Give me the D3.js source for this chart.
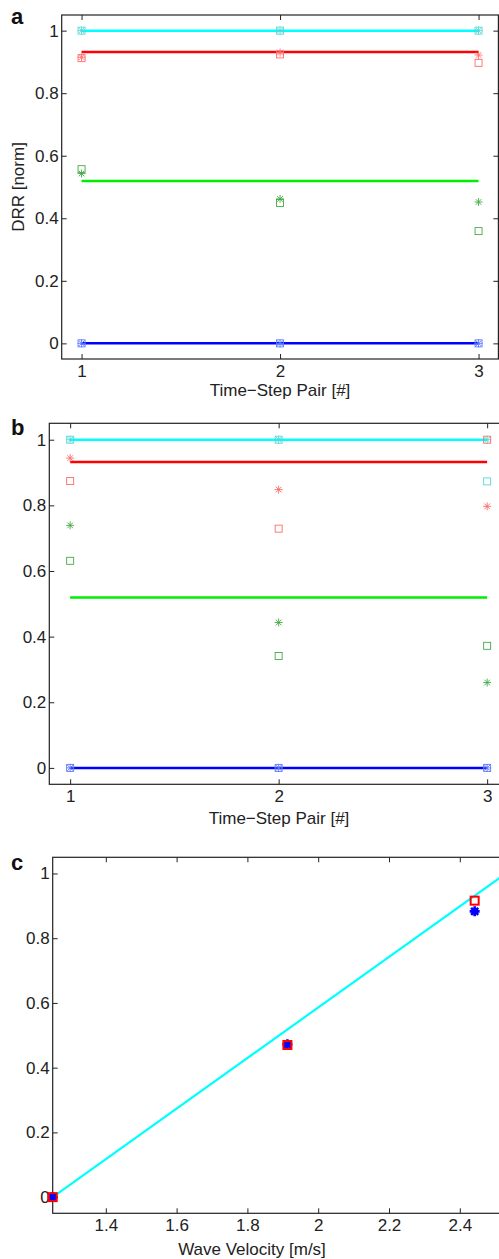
<!DOCTYPE html>
<html>
<head>
<meta charset="utf-8">
<script src="https://d3js.org/d3.v7.min.js"></script>
<style>
  body { margin: 0; background: #fff; }
  svg { display: block; font-family: "Liberation Sans", Arial, sans-serif; }
  .tick text { fill: #222; font-size: 17px; }
</style>
</head>
<body>
<div id="chart"></div>
<script>
// time-step pairs for panels a and b
var pairs = [1, 2, 3]
var pairTicks = [1, 2, 3]
var drrTicks = [0, 0.2, 0.4, 0.6, 0.8, 1]

// horizontal reference levels (cyan, red, green, blue)
var refLevels = [1, 0.932, 0.519, 0]

// panel a
var aCyanSq = [1, 1, 1]
var aCyanAst = [1, 1, 1]
var aRedSq = [0.912, 0.924, 0.897]
var aRedAst = [0.915, 0.930, 0.922]
var aGreenSq = [0.557, 0.449, 0.359]
var aGreenAst = [0.543, 0.462, 0.452]
var aBlueSq = [0, 0, 0]
var aBlueAst = [0, 0, 0]

// panel b
var bCyanSq = [1, 1, 0.873]
var bCyanAst = [1, 1, 1]
var bRedSq = [0.874, 0.729, 1.0]
var bRedAst = [0.944, 0.848, 0.797]
var bGreenSq = [0.631, 0.341, 0.372]
var bGreenAst = [0.739, 0.443, 0.260]
var bBlueSq = [0, 0, 0]
var bBlueAst = [0, 0, 0]

// panel c
var velocity = [1.25, 1.913, 2.442]
var cRedSq = [0, 0.470, 0.916]
var cBlueAst = [0, 0.472, 0.883]
var fitVelocity = [1.25, 2.53]
var fitDrr = [0, 1.0]
var velTicks = [1.4, 1.6, 1.8, 2, 2.2, 2.4]

var lineColors = ["#00ffff", "#ff0000", "#00ee00", "#0000ff"]
var markColors = ["#55d8d8", "#ff6a6a", "#44aa44", "#5a78ff"]

var svg = d3.select("#chart").append("svg")
  .attr("width", 499)
  .attr("height", 1259)

function starPath(x, y, r) {
  var d = r * 0.707
  return "M" + (x - r) + "," + y + "h" + (2 * r) +
    "M" + x + "," + (y - r) + "v" + (2 * r) +
    "M" + (x - d) + "," + (y - d) + "l" + (2 * d) + "," + (2 * d) +
    "M" + (x - d) + "," + (y + d) + "l" + (2 * d) + "," + (-2 * d)
}

function makeAxes(box, xDomain, yDomain, xTicks, xFmt) {
  var g = svg.append("g")
  var x = d3.scaleLinear().domain(xDomain).range([box.left, box.right])
  var y = d3.scaleLinear().domain(yDomain).range([box.bottom, box.top])

  g.append("g")
    .attr("transform", "translate(0," + box.bottom + ")")
    .call(d3.axisBottom(x).tickValues(xTicks).tickFormat(xFmt).tickSizeInner(-5).tickSizeOuter(0).tickPadding(6))
  g.append("g")
    .attr("transform", "translate(0," + box.top + ")")
    .call(d3.axisTop(x).tickValues(xTicks).tickFormat("").tickSizeInner(-5).tickSizeOuter(0))
  g.append("g")
    .attr("transform", "translate(" + box.left + ",0)")
    .call(d3.axisLeft(y).tickValues(drrTicks).tickFormat(d3.format("")).tickSizeInner(-5).tickSizeOuter(0).tickPadding(3))
  g.append("g")
    .attr("transform", "translate(" + box.right + ",0)")
    .call(d3.axisRight(y).tickValues(drrTicks).tickFormat("").tickSizeInner(-5).tickSizeOuter(0))

  g.selectAll(".domain").remove()
  g.selectAll(".tick line").attr("stroke", "#222")
  g.selectAll(".tick text").attr("font-family", "'Liberation Sans', Arial, sans-serif")

  g.append("rect")
    .attr("x", box.left).attr("y", box.top)
    .attr("width", box.right - box.left).attr("height", box.bottom - box.top)
    .attr("fill", "none").attr("stroke", "#222").attr("stroke-width", 1.2)

  return { g: g, x: x, y: y }
}

function panelLetter(txt, px, py) {
  svg.append("text")
    .attr("x", px).attr("y", py)
    .attr("font-size", 22).attr("font-weight", "bold")
    .attr("fill", "#111")
    .text(txt)
}

function axisTitle(txt, px, py, rotate) {
  var t = svg.append("text")
    .attr("text-anchor", "middle")
    .attr("font-size", 17)
    .attr("fill", "#222")
    .text(txt)
  if (rotate) t.attr("transform", "translate(" + px + "," + py + ") rotate(-90)")
  else t.attr("x", px).attr("y", py)
}

function drawPairPanel(ax, series) {
  // reference lines
  ax.g.selectAll(".ref")
    .data(refLevels)
    .enter()
    .append("line")
    .attr("x1", ax.x(pairs[0]))
    .attr("x2", ax.x(pairs[pairs.length - 1]))
    .attr("y1", function(d) { return ax.y(d) })
    .attr("y2", function(d) { return ax.y(d) })
    .attr("stroke", function(d, i) { return lineColors[i] })
    .attr("stroke-width", 2.5)

  series.forEach(function(s, k) {
    var col = markColors[k]
    ax.g.selectAll(null)
      .data(s.sq)
      .enter()
      .append("rect")
      .attr("x", function(d, i) { return ax.x(pairs[i]) - 3.5 })
      .attr("y", function(d) { return ax.y(d) - 3.5 })
      .attr("width", 7).attr("height", 7)
      .attr("fill", "none").attr("stroke", col).attr("stroke-width", 0.9)
    ax.g.selectAll(null)
      .data(s.ast)
      .enter()
      .append("path")
      .attr("d", function(d, i) { return starPath(ax.x(pairs[i]), ax.y(d), 4) })
      .attr("fill", "none").attr("stroke", col).attr("stroke-width", 0.9)
  })
}

// panel a
var axA = makeAxes({ left: 61.7, right: 498.4, top: 15, bottom: 359 }, [0.9, 3.1], [-0.05, 1.05], pairTicks, d3.format("d"))
drawPairPanel(axA, [
  { sq: aCyanSq, ast: aCyanAst },
  { sq: aRedSq, ast: aRedAst },
  { sq: aGreenSq, ast: aGreenAst },
  { sq: aBlueSq, ast: aBlueAst }
])
panelLetter("a", 11, 24)
axisTitle("Time\u2212Step Pair [#]", 280, 396)
axisTitle("DRR [norm]", 24, 187, true)

// panel b
var axB = makeAxes({ left: 49.3, right: 508, top: 423.3, bottom: 784.3 }, [0.9, 3.1], [-0.05, 1.05], pairTicks, d3.format("d"))
drawPairPanel(axB, [
  { sq: bCyanSq, ast: bCyanAst },
  { sq: bRedSq, ast: bRedAst },
  { sq: bGreenSq, ast: bGreenAst },
  { sq: bBlueSq, ast: bBlueAst }
])
panelLetter("b", 11, 435)
axisTitle("Time\u2212Step Pair [#]", 279, 824)

// panel c
var axC = makeAxes({ left: 52.7, right: 530.6, top: 857.3, bottom: 1213.3 }, [1.25, 2.6], [-0.05, 1.05], velTicks, d3.format(""))

axC.g.append("path")
  .datum(d3.zip(fitVelocity, fitDrr))
  .attr("d", d3.line().x(function(d) { return axC.x(d[0]) }).y(function(d) { return axC.y(d[1]) }))
  .attr("fill", "none").attr("stroke", "#00ffff").attr("stroke-width", 2.2)

axC.g.selectAll(".cast")
  .data(cBlueAst)
  .enter()
  .append("path")
  .attr("d", function(d, i) { return starPath(axC.x(velocity[i]), axC.y(d), 5) })
  .attr("fill", "none").attr("stroke", "#0000ff").attr("stroke-width", 2.6)

axC.g.selectAll(".csq")
  .data(cRedSq)
  .enter()
  .append("rect")
  .attr("x", function(d, i) { return axC.x(velocity[i]) - 4 })
  .attr("y", function(d) { return axC.y(d) - 4 })
  .attr("width", 8).attr("height", 8)
  .attr("fill", "none").attr("stroke", "#ff0000").attr("stroke-width", 2)

panelLetter("c", 11, 870)
axisTitle("Wave Velocity [m/s]", 252, 1255)
</script>
</body>
</html>
